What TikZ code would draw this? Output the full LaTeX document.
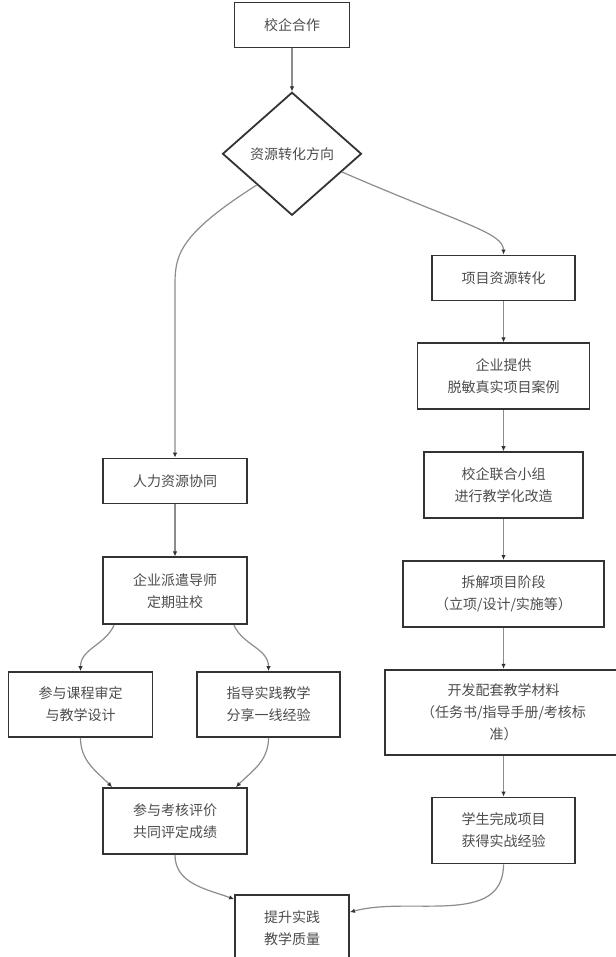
\documentclass[tikz,border=0pt]{standalone}
\usepackage{fontspec}
\setmainfont{Noto Sans CJK SC}
\usepackage{tikz}
\usetikzlibrary{shapes.geometric, arrows.meta, positioning}
\definecolor{bxline}{HTML}{333333}
\definecolor{bxtext}{HTML}{4D4D4D}
\definecolor{arline}{HTML}{8C8C8C}

\begin{document}
\begin{tikzpicture}[
  x=1pt, y=1pt,
  node distance=41pt,
  blk/.style={rectangle, draw=bxline, fill=white, line width=1.8pt,
              minimum width=144pt, minimum height=45pt, inner sep=2pt,
              align=center, text=bxtext,
              font=\fontsize{14}{22}\selectfont},
  tall/.style={minimum height=66pt},
  dec/.style={diamond, draw=bxline, fill=white, line width=1.8pt,
              minimum width=139pt, minimum height=123pt, inner sep=0pt,
              align=center, text=bxtext,
              font=\fontsize{14}{22}\selectfont},
  arr/.style={-{Latex[length=5pt, width=4.5pt, color=bxline]},
              line width=1.2pt, color=arline}
]
  \useasboundingbox (0,0) rectangle (615,-957);

  \node[blk, minimum width=115pt] (coop) at (292,-25) {校企合作};
  \node[dec, below=43pt of coop] (dir) {资源转化方向};

  % project branch
  \node[blk, minimum width=143pt] (proj) at (503.5,-278) {项目资源转化};
  \node[blk, tall, minimum width=172pt, below=of proj] (case)
    {企业提供\\脱敏真实项目案例};
  \node[blk, tall, minimum width=159pt, below=of case] (team)
    {校企联合小组\\进行教学化改造};
  \node[blk, tall, minimum width=201pt, below=of team] (split)
    {拆解项目阶段\\（立项/设计/实施等）};
  \node[blk, minimum width=237pt, minimum height=85pt, below=of split] (mat)
    {开发配套教学材料\\（任务书/指导手册/考核标\\准）};
  \node[blk, tall, minimum width=143pt, below=of mat] (stu)
    {学生完成项目\\获得实战经验};

  % people branch
  \node[blk] (hr) at (175,-481) {人力资源协同};
  \node[blk, minimum height=67pt, below=52pt of hr] (mentor)
    {企业派遣导师\\定期驻校};
  \node[blk, minimum height=65pt] (course) at (80.5,-704.5)
    {参与课程审定\\与教学设计};
  \node[blk, minimum height=65pt, minimum width=143pt] (guide) at (268.5,-704.5)
    {指导实践教学\\分享一线经验};
  \node[blk, tall] (eval) at (175,-821) {参与考核评价\\共同评定成绩};
  \node[blk, tall, minimum width=114pt] (lift) at (292,-928)
    {提升实践\\教学质量};

  \draw[arr] (coop) -- (dir);
  \draw[arr] (dir.south west) .. controls +(-82,-52) and +(0,30) ..
    ([yshift=170pt]hr.north) -- (hr.north);
  \draw[arr] (dir.-20) .. controls +(120,-52) and +(0,22) .. (proj.north);
  \draw[arr] (proj) -- (case);
  \draw[arr] (case) -- (team);
  \draw[arr] (team) -- (split);
  \draw[arr] (split) -- (mat);
  \draw[arr] (mat) -- (stu);
  \draw[arr] (hr) -- (mentor);
  \draw[arr] ([xshift=12pt]mentor.south west) to[out=-115, in=90] (course.north);
  \draw[arr] ([xshift=-14pt]mentor.south east) to[out=-65, in=90] (guide.north);
  \draw[arr] (course.south) to[out=-90, in=135] ([xshift=10pt]eval.north west);
  \draw[arr] (guide.south) to[out=-90, in=45] ([xshift=-12pt]eval.north east);
  \draw[arr] (eval.south) to[out=-90, in=160] ([yshift=-5pt]lift.north west);
  \draw[arr] (stu.south) to[out=-90, in=15] ([yshift=-18pt]lift.north east);
\end{tikzpicture}
\end{document}
